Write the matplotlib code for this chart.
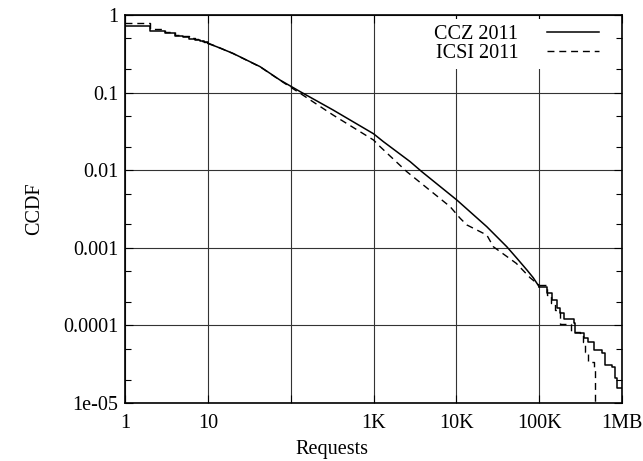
import matplotlib
matplotlib.use("Agg")
import matplotlib.pyplot as plt
from matplotlib.ticker import FixedLocator, FixedFormatter, NullLocator

plt.rcParams['font.family'] = ['Liberation Serif', 'DejaVu Serif']

# CCZ 2011: request-count CCDF (step head, smooth body, step tail)
ccz_head_x = [1, 2, 3, 4, 5, 6, 7, 8, 9, 10]
ccz_head_p = [0.73, 0.63, 0.58, 0.54, 0.515, 0.495, 0.476, 0.458, 0.443, 0.43]
ccz_body_x = [10, 12.8, 20, 42.7, 74.5, 130, 325, 1000, 1318, 2767, 3828,
              10140, 23330, 40740, 53830, 60000, 72000, 85000, 100000]
ccz_body_p = [0.43, 0.39, 0.321, 0.216, 0.145, 0.103, 0.0597, 0.0295, 0.0233,
              0.0129, 0.00957, 0.00413, 0.00187, 0.00103, 0.000733, 0.00064,
              0.00051, 0.00041, 0.000315]
ccz_tail_x = [100e3, 124e3, 142e3, 165e3, 180e3, 200e3, 260e3, 272e3, 343e3,
              394e3, 453e3, 572e3, 627e3, 755e3, 828e3, 867e3, 1e6]
ccz_tail_p = [3.15e-4, 2.6e-4, 2.12e-4, 1.7e-4, 1.43e-4, 1.2e-4, 1.06e-4,
              7.9e-5, 6.8e-5, 6.2e-5, 4.8e-5, 4.4e-5, 3.1e-5, 2.9e-5, 2.1e-5,
              1.55e-5, 1.55e-5]

# ICSI 2011
icsi_head_x = [1, 2, 3, 4, 5, 6, 7, 8, 9, 10]
icsi_head_p = [0.78, 0.66, 0.61, 0.56, 0.53, 0.51, 0.488, 0.468, 0.45, 0.435]
icsi_body_x = [10, 12.8, 20, 43, 81.6, 130, 325, 1000, 1202, 2523, 8414,
               11120, 13400, 23330, 28050, 53000, 78000, 100000]
icsi_body_p = [0.435, 0.392, 0.32, 0.214, 0.135, 0.098, 0.0514, 0.0245, 0.0201,
               0.00957, 0.00339, 0.0024, 0.00197, 0.00146, 0.00103, 0.00063,
               0.00041, 0.00033]
icsi_tail_x = [100e3, 125e3, 140e3, 155e3, 178e3, 245e3, 310e3, 340e3, 358e3,
               390e3, 460e3, 475e3]
icsi_tail_p = [3.3e-4, 2.5e-4, 1.95e-4, 1.6e-4, 1.04e-4, 8.3e-5, 7.5e-5,
               6.2e-5, 4.6e-5, 3.4e-5, 2.7e-5, 1e-6]

xticks = [1, 10, 100, 1e3, 1e4, 1e5, 1e6]
xticklabels = ['1', '10', '', '1K', '10K', '100K', '1MB']
yticks = [1e-5, 1e-4, 1e-3, 1e-2, 1e-1, 1]
yticklabels = ['1e-05', '0.0001', '0.001', '0.01', '0.1', '1']

FS = 14.5

fig = plt.figure(figsize=(6.43, 4.61), dpi=100)
ax = fig.add_axes([125 / 643, 1 - 403 / 461, 497 / 643, 388 / 461])

solid = dict(color='black', lw=1.1)
dashed = dict(color='black', lw=1.0, linestyle=(0, (5, 3.5)))

ax.plot(ccz_head_x, ccz_head_p, drawstyle='steps-post', **solid)
ax.plot(ccz_body_x, ccz_body_p, label='CCZ 2011', **solid)
ax.plot(ccz_tail_x, ccz_tail_p, drawstyle='steps-post', **solid)

ax.plot(icsi_head_x, icsi_head_p, drawstyle='steps-post', **dashed)
ax.plot(icsi_body_x, icsi_body_p, label='ICSI 2011', **dashed)
ax.plot(icsi_tail_x, icsi_tail_p, drawstyle='steps-post', **dashed)

ax.set_xscale('log')
ax.set_yscale('log')
ax.set_xlim(1, 1e6)
ax.set_ylim(1e-5, 1)

ax.xaxis.set_major_locator(FixedLocator(xticks))
ax.xaxis.set_major_formatter(FixedFormatter(xticklabels))
ax.xaxis.set_minor_locator(NullLocator())
ax.yaxis.set_major_locator(FixedLocator(yticks))
ax.yaxis.set_major_formatter(FixedFormatter(yticklabels))
ax.yaxis.set_minor_locator(FixedLocator([m * 10.0 ** e for e in range(-5, 0) for m in (2, 5)]))

ax.tick_params(which='both', direction='in', top=True, right=True, labelsize=FS)
ax.tick_params(which='major', length=6, width=0.8)
ax.tick_params(which='minor', length=4, width=0.8)
ax.tick_params(axis='x', pad=8)
ax.tick_params(axis='y', pad=5)

ax.grid(True, which='major', color='#333333', lw=0.8)
for s in ax.spines.values():
    s.set_linewidth(1.2)

ax.set_xlabel('Requests', fontsize=FS)
ax.xaxis.set_label_coords((332 - 125) / 497, -(449 - 403) / 388)
ax.xaxis.label.set_va('center')
ax.set_ylabel('CCDF', fontsize=FS)
ax.yaxis.set_label_coords(-(125 - 35) / 497, 0.5)
ax.yaxis.label.set_va('center')

leg = ax.legend(loc='upper right', markerfirst=False, frameon=True, fancybox=False,
                fontsize=FS, handlelength=2.6, borderaxespad=0.2, borderpad=0.3,
                labelspacing=0.0, handletextpad=1.4,
                bbox_to_anchor=(1 - 13 / 497, 1))
leg.get_frame().set_edgecolor('none')
leg.get_frame().set_facecolor('white')
leg.get_frame().set_alpha(1)

fig.savefig('out.png', dpi=100)
